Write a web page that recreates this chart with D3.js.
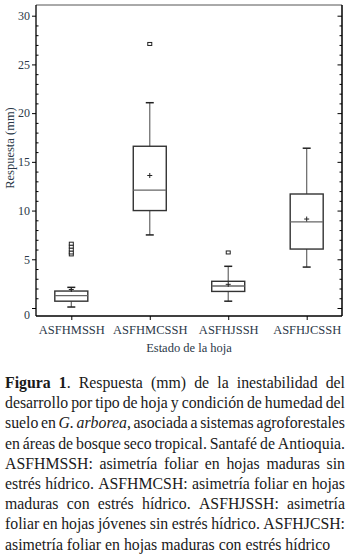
<!DOCTYPE html>
<html>
<head>
<meta charset="utf-8">
<script src="https://cdn.jsdelivr.net/npm/d3@7/dist/d3.min.js"></script>
<style>
  html, body { margin: 0; padding: 0; background: #fff; }
  svg { display: block; }
  svg text { font-family: "Liberation Serif", "Times New Roman", Times, "DejaVu Serif", serif; }
</style>
</head>
<body>
<svg id="chart" width="348" height="555"></svg>
<script>
// ---------- data ----------
const categories   = ["ASFHMSSH", "ASFHMCSSH", "ASFHJSSH", "ASFHJCSSH"];
const lowerWhisker = [0.1, 7.5, 0.7, 4.2];
const q1           = [0.7, 10.0, 1.7, 6.05];
const medians      = [1.26, 12.1, 2.26, 8.83];
const q3           = [1.74, 16.6, 2.74, 11.7];
const upperWhisker = [2.12, 21.07, 4.28, 16.4];
const means        = [1.9, 13.6, 2.43, 9.13];
const outliers     = [[5.5, 5.7, 6.0, 6.3, 6.6], [27.1], [5.7], []];
const yTicks       = [0, 5, 10, 15, 20, 25, 30];
const yMinorTicks  = d3.range(0, 31, 1).filter(v => v % 5 !== 0);
const yLabel = "Respuesta (mm)";
const xLabel = "Estado de la hoja";
const captionLines = [
  "{b}Figura 1{b}. Respuesta (mm) de la inestabilidad del",
  "desarrollo por tipo de hoja y condición de humedad del",
  "suelo en {i}G. arborea{i}, asociada a sistemas agroforestales",
  "en áreas de bosque seco tropical. Santafé de Antioquia.",
  "ASFHMSSH: asimetría foliar en hojas maduras sin",
  "estrés hídrico. ASFHMCSH: asimetría foliar en hojas",
  "maduras con estrés hídrico. ASFHJSSH: asimetría",
  "foliar en hojas jóvenes sin estrés hídrico. ASFHJCSH:",
  "asimetría foliar en hojas maduras con estrés hídrico"
];

// ---------- layout ----------
const svg = d3.select("#chart");
const plotL = 36, plotR = 342, plotT = 5, plotB = 316;
const tickColor = "#2b3848";

const x = d3.scalePoint().domain(categories).range([plotL, plotR]).padding(0.45);
const y = d3.scaleLinear().domain([0, 30]).range([308, 15.7]);

const rows = categories.map((c, i) => ({
  cat: c, lo: lowerWhisker[i], q1: q1[i], med: medians[i], q3: q3[i],
  hi: upperWhisker[i], mean: means[i], out: outliers[i]
}));

// ---------- axes ----------
const gLeft = svg.append("g").attr("transform", `translate(${plotL},0)`)
  .call(d3.axisLeft(y).tickValues(yTicks).tickSize(4).tickPadding(2));
gLeft.attr("font-family", null);
gLeft.select(".domain").remove();
gLeft.selectAll(".tick line").attr("stroke", "#000");
gLeft.selectAll(".tick text")
  .attr("font-size", 12).attr("fill", tickColor)
  .attr("dy", d => d === 0 ? "0.85em" : "0.32em");

const gLeftMinor = svg.append("g").attr("transform", `translate(${plotL},0)`)
  .call(d3.axisLeft(y).tickValues(yMinorTicks).tickSize(-2.5).tickFormat(""));
gLeftMinor.select(".domain").remove();
gLeftMinor.selectAll(".tick line").attr("stroke", "#000");

const gRight = svg.append("g").attr("transform", `translate(${plotR},0)`)
  .call(d3.axisRight(y).tickValues(yTicks).tickSize(-4.5).tickFormat(""));
gRight.select(".domain").remove();
gRight.selectAll(".tick line").attr("stroke", "#000");
const gRightMinor = svg.append("g").attr("transform", `translate(${plotR},0)`)
  .call(d3.axisRight(y).tickValues(yMinorTicks).tickSize(-2.5).tickFormat(""));
gRightMinor.select(".domain").remove();
gRightMinor.selectAll(".tick line").attr("stroke", "#000");

const gBottom = svg.append("g").attr("transform", `translate(0,${plotB})`)
  .call(d3.axisBottom(x).tickSize(4).tickPadding(5));
gBottom.attr("font-family", null);
gBottom.select(".domain").remove();
gBottom.selectAll(".tick line").attr("stroke", "#000");
gBottom.selectAll(".tick text")
  .attr("font-size", 12.5).attr("fill", tickColor);

// frame
svg.append("line").attr("x1", plotL).attr("x2", plotR).attr("y1", plotT).attr("y2", plotT)
  .attr("stroke", "#555").attr("stroke-width", 1);
svg.append("line").attr("x1", plotL).attr("x2", plotL).attr("y1", plotT).attr("y2", plotB)
  .attr("stroke", "#000").attr("stroke-width", 1.3);
svg.append("line").attr("x1", plotR).attr("x2", plotR).attr("y1", plotT).attr("y2", plotB)
  .attr("stroke", "#000").attr("stroke-width", 1.5);
svg.append("line").attr("x1", plotL).attr("x2", plotR).attr("y1", plotB).attr("y2", plotB)
  .attr("stroke", "#000").attr("stroke-width", 1.5);

// axis titles
svg.append("text")
  .attr("transform", `translate(14,148) rotate(-90)`)
  .attr("text-anchor", "middle").attr("font-size", 12.5)
  .attr("fill", tickColor).text(yLabel);
svg.append("text")
  .attr("x", (plotL + plotR) / 2).attr("y", 352)
  .attr("text-anchor", "middle").attr("font-size", 12.5)
  .attr("fill", tickColor).text(xLabel);

// ---------- boxes ----------
const boxW = 33, capW = 8;
const g = svg.append("g");
const box = g.selectAll("g.box").data(rows).join("g").attr("class", "box");

box.append("line").attr("x1", d => x(d.cat)).attr("x2", d => x(d.cat))
  .attr("y1", d => y(d.q3)).attr("y2", d => y(d.hi)).attr("stroke", "#666").attr("stroke-width", 1.2);
box.append("line").attr("x1", d => x(d.cat)).attr("x2", d => x(d.cat))
  .attr("y1", d => y(d.q1)).attr("y2", d => y(d.lo)).attr("stroke", "#666").attr("stroke-width", 1.2);
box.append("line").attr("x1", d => x(d.cat) - capW / 2).attr("x2", d => x(d.cat) + capW / 2)
  .attr("y1", d => y(d.hi)).attr("y2", d => y(d.hi)).attr("stroke", "#222").attr("stroke-width", 1.5);
box.append("line").attr("x1", d => x(d.cat) - capW / 2).attr("x2", d => x(d.cat) + capW / 2)
  .attr("y1", d => y(d.lo)).attr("y2", d => y(d.lo)).attr("stroke", "#222").attr("stroke-width", 1.5);
box.append("rect")
  .attr("x", d => x(d.cat) - boxW / 2).attr("width", boxW)
  .attr("y", d => y(d.q3)).attr("height", d => y(d.q1) - y(d.q3))
  .attr("fill", "none").attr("stroke", "#333").attr("stroke-width", 1.4);
box.append("line").attr("x1", d => x(d.cat) - boxW / 2).attr("x2", d => x(d.cat) + boxW / 2)
  .attr("y1", d => y(d.med)).attr("y2", d => y(d.med)).attr("stroke", "#666").attr("stroke-width", 1.3);
box.append("path")
  .attr("d", d => `M${x(d.cat) - 2.5},${y(d.mean)}h5M${x(d.cat)},${y(d.mean) - 2.5}v5`)
  .attr("stroke", "#222").attr("stroke-width", 1);
box.selectAll("rect.out").data(d => d.out.map(v => ({ cat: d.cat, v })))
  .join("rect").attr("class", "out")
  .attr("x", d => x(d.cat) - 2).attr("y", d => y(d.v) - 1.5)
  .attr("width", 4).attr("height", 3)
  .attr("fill", "#fff").attr("stroke", "#222").attr("stroke-width", 1);

// ---------- caption (justified) ----------
function parseLine(str) {
  const words = [];
  let bold = false, ital = false, cur = [], buf = "";
  const flush = () => { if (buf) { cur.push({ t: buf, b: bold, i: ital }); buf = ""; } };
  for (let k = 0; k < str.length; k++) {
    if (str.startsWith("{b}", k)) { flush(); bold = !bold; k += 2; continue; }
    if (str.startsWith("{i}", k)) { flush(); ital = !ital; k += 2; continue; }
    const ch = str[k];
    if (ch === " ") { flush(); if (cur.length) words.push(cur); cur = []; }
    else buf += ch;
  }
  flush(); if (cur.length) words.push(cur);
  return words;
}
const capX0 = 5, capX1 = 345, capY0 = 388, capDy = 20.2, capSize = 15.8;
const cap = svg.append("g").attr("font-size", capSize).attr("fill", "#1a1a1a");
captionLines.forEach((line, li) => {
  const words = parseLine(line);
  const els = words.map(segs => {
    const t = cap.append("text").attr("y", capY0 + li * capDy);
    segs.forEach(s => t.append("tspan").text(s.t)
      .attr("font-weight", s.b ? "bold" : null)
      .attr("font-style", s.i ? "italic" : null));
    return t;
  });
  const widths = els.map(t => t.node().getComputedTextLength());
  const total = d3.sum(widths);
  const last = li === captionLines.length - 1;
  const gap = last || els.length < 2 ? capSize * 0.25 : (capX1 - capX0 - total) / (els.length - 1);
  let cx = capX0;
  els.forEach((t, k) => { t.attr("x", cx); cx += widths[k] + gap; });
});
</script>
</body>
</html>
